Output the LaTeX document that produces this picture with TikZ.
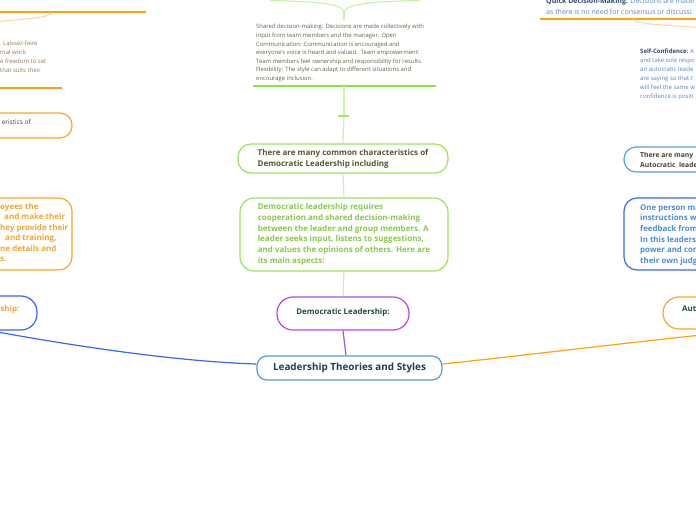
\documentclass[tikz,border=0pt]{standalone}
\usepackage{fontspec}
\setmainfont{Open Sans}
\usetikzlibrary{calc}
\definecolor{navytx}{HTML}{1F3A5F}
\definecolor{centerbd}{HTML}{5B9BD5}
\definecolor{purplebd}{HTML}{B04AE8}
\definecolor{dkgreen}{HTML}{1E4D3C}
\definecolor{greenbd}{HTML}{9BE35A}
\definecolor{greenln}{HTML}{C8F2A4}
\definecolor{greenul}{HTML}{8DE33F}
\definecolor{olivetx}{HTML}{4E5A30}
\definecolor{olivesm}{HTML}{606A45}
\definecolor{lgreentx}{HTML}{8CC84B}
\definecolor{orangebd}{HTML}{F7A823}
\definecolor{orangeln}{HTML}{FFA20A}
\definecolor{orangelt}{HTML}{FFD699}
\definecolor{orangetx}{HTML}{F2A630}
\definecolor{tantx}{HTML}{967B55}
\definecolor{browntx}{HTML}{4E4030}
\definecolor{bluebd}{HTML}{3A66F5}
\definecolor{lbluebd}{HTML}{4DA3E6}
\definecolor{bluetx}{HTML}{4A8FD8}
\definecolor{bluesm}{HTML}{5A88C2}
\definecolor{navysm}{HTML}{2E4A72}
\newcommand\fSmall{\fontsize{5.9}{8.6}\selectfont}
\newcommand\fSmallB{\fontsize{6}{9}\selectfont}
\newcommand\fQuick{\fontsize{7}{11}\selectfont}
\newcommand\fBox{\fontsize{8}{10.7}\selectfont\bfseries}
\newcommand\fBoxA{\fontsize{8}{11}\selectfont\bfseries}
\begin{document}
\begin{tikzpicture}[x=1pt,y=-1pt,
  box/.style={draw, fill=white, line width=1.2pt, inner sep=0pt},
  txt/.style={inner sep=0pt, align=left},
  conn/.style={line width=1.2pt},
  gconn/.style={draw=greenln, line width=1.1pt},
  ocurve/.style={draw=orangelt, line width=1pt},
  uline/.style={line width=1.8pt}]
\useasboundingbox (0,0) rectangle (696,520);
\clip (0,0) rectangle (696,520);
\fill[white] (0,0) rectangle (696,520);

% ---------------- coordinates ----------------
\coordinate (lend) at (-40,325);
\coordinate (rend) at (740,331);
\coordinate (tick) at (344,116);
\coordinate (ulmid) at (344,86);
\coordinate (ulL) at (253,86);
\coordinate (ulR) at (436,86);
\coordinate (topjoin) at (344,20);
\coordinate (branch) at (344,13);
\coordinate (brL) at (270,0.5);
\coordinate (brR) at (420,0.5);

% ---------------- center column ----------------
\node[box, draw=centerbd, rounded corners=10pt, minimum width=185pt, minimum height=24pt,
  font=\fontsize{9.9}{11}\selectfont\bfseries, text=navytx] (central) at (349.5,368) {Leadership Theories and Styles};

\node[box, draw=purplebd, rounded corners=16pt, minimum width=132pt, minimum height=33pt,
  font=\fontsize{7.9}{9}\selectfont\bfseries, text=dkgreen] (dem) at (343,313.5) {\raisebox{4.5pt}{Democratic Leadership:}};

\node[box, draw=greenbd, rounded corners=14pt, minimum width=208pt, minimum height=73pt,
  align=left, font=\fBox, text=lgreentx] (gb2) at (344,234.5)
  {Democratic leadership requires\\cooperation and shared decision-making\\between the leader and group members. A\\leader seeks input, listens to suggestions,\\and values the opinions of others. Here are\\its main aspects:};

\node[box, draw=greenbd, rounded corners=13pt, minimum width=210pt, minimum height=29pt,
  align=left, font=\fBoxA, text=olivetx] (gb1) at (343,158.5)
  {There are many common characteristics of\\Democratic Leadership including};

\node[txt, anchor=north west, font=\fSmall, text=olivesm] (topdem) at (256,24.2)
  {Shared decision-making: Decisions are made collectively with\\input from team members and the manager. Open\\Communication: Communication is encouraged and\\everyone's voice is heard and valued.\ \ Team empowerment:\\Team members feel ownership and responsibility for results.\\Flexibility: The style can adapt to different situations and\\encourage inclusion.};

\draw[uline, draw=greenul] (ulL) -- (ulR);
\draw[gconn] (dem.north) -- (gb2.south);
\draw[gconn] (gb2.north) -- (gb1.south);
\draw[gconn] (gb1.north) -- (tick);
\draw[gconn] (tick) -- (ulmid);
\draw[draw=greenul!80, line width=1.5pt] ($(tick)+(-6,0)$) -- ($(tick)+(5,0)$);
\draw[gconn] (topjoin) -- (branch);
\draw[gconn] (branch) .. controls (344,4) and (320,1.5) .. (brL);
\draw[gconn] (branch) .. controls (344,4) and (370,1.5) .. (brR);

\draw[conn, draw=purplebd] (dem.south) -- ($(central.north)+(-3.5,0)$);

% ---------------- left side ----------------
\draw[uline, draw=orangeln] (-10,12) -- (146,12);
\draw[ocurve] (53,12.5) .. controls (45,19) and (20,19) .. (-5,22);
\node[txt, anchor=north west, font=\fSmallB, text=tantx] (lftop) at (0,41.1)
  {\hspace{3pt}Laissez-faire\\mal work\\e freedom to set\\that suits their};
\draw[uline, draw=orangeln] (-10,88) -- (62,88);

\node[box, draw=orangebd, rounded corners=12pt, minimum width=222pt, minimum height=25pt] (lb1) at (-39,125.5) {};
\node[txt, anchor=east, font=\fontsize{6.5}{9}\selectfont, text=browntx] (lb1t) at (31,122) {eristics of};

\node[box, draw=orangebd, rounded corners=13pt, minimum width=222pt, minimum height=72pt] (lb2) at (-39,234) {};
\node[txt, anchor=north west, font=\fontsize{8}{10.5}\selectfont\bfseries, text=orangetx] (lb2t) at (0,203.2)
  {oyees the\\\hspace{4pt}and make their\\hey provide their\\\hspace{5pt}and training,\\ne details and\\s.};

\node[box, draw=bluebd, rounded corners=16pt, minimum width=187pt, minimum height=34pt] (lnode) at (-56.5,313) {};
\node[txt, anchor=east, font=\fontsize{7.9}{9}\selectfont\bfseries, text=orangetx] (lnodet) at (19.5,309) {ship:};

\draw[conn, draw=bluebd] ($(central.west)+(0,-4)$) .. controls (190,362) and (90,350) .. (lend);

% ---------------- right side ----------------
\node[txt, anchor=north west, font=\fQuick, text=bluesm] (quick) at (546,-1.6)
  {{\bfseries\color{navysm}Quick Decision-Making:} Decisions are made\\as there is no need for consensus or discussi};
\draw[uline, draw=orangeln] (540,19) -- (706,19);
\draw[ocurve] (633,19.5) .. controls (640,25) and (670,25) .. (705,28);

\node[txt, anchor=north west, font=\fSmallB, text=bluesm] (selfc) at (640,49.1)
  {{\bfseries\color{navysm}Self-Confidence:} A\\and take sole respo\\an autocratic leade\\are saying so that t\\will feel the same w\\confidence is positi};

\node[box, draw=lbluebd, rounded corners=12pt, minimum width=226pt, minimum height=25pt] (rb1) at (737,159.5) {};
\node[txt, anchor=north west, font=\fontsize{6.8}{10}\selectfont\bfseries, text=browntx] (rb1t) at (640,151.7)
  {There are many\\Autocratic\ \ leade};

\node[box, draw=bluebd, rounded corners=13pt, minimum width=226pt, minimum height=72pt] (rb2) at (737,234) {};
\node[txt, anchor=north west, font=\fontsize{7.9}{10.7}\selectfont\bfseries, text=bluetx] (rb2t) at (640,203.9)
  {One person mak\\instructions with\\feedback from o\\In this leadershi\\power and contr\\their own judgm};

\node[box, draw=orangebd, rounded corners=16pt, minimum width=187pt, minimum height=32pt] (rnode) at (756.5,313) {};
\node[txt, anchor=west, font=\fontsize{7.9}{9}\selectfont\bfseries, text=dkgreen] (rnodet) at (682,309) {Aut};

\draw[conn, draw=orangeln] ($(central.east)+(0,-4)$) .. controls (520,356) and (640,341) .. (rend);
\end{tikzpicture}
\end{document}
